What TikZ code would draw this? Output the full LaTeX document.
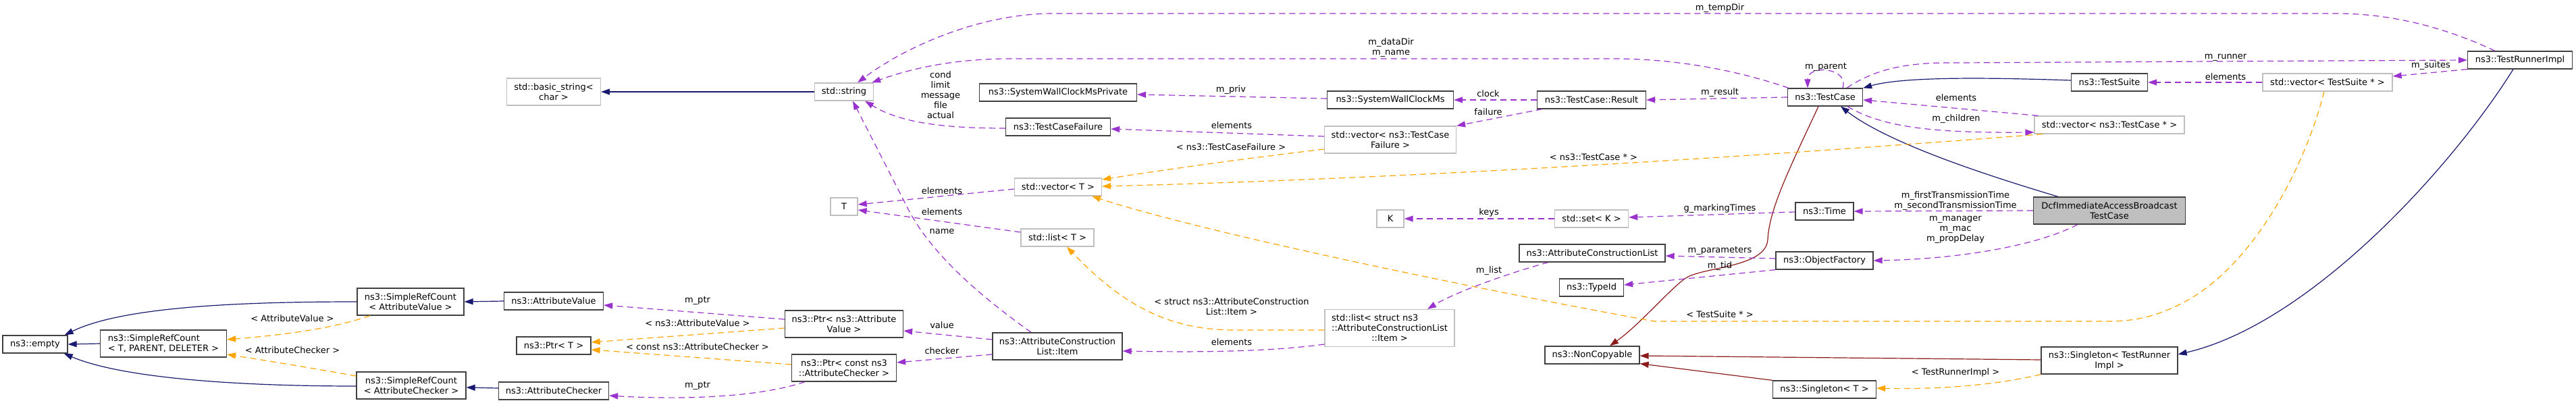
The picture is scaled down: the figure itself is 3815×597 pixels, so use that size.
\documentclass[tikz,border=0pt]{standalone}
\usepackage{fontspec}
\setmainfont{DejaVu Sans}
\usetikzlibrary{arrows.meta,calc}
\definecolor{inhc}{HTML}{191970}
\definecolor{usec}{HTML}{9A32CD}
\definecolor{tplc}{HTML}{FFA500}
\definecolor{privc}{HTML}{8B1A1A}
\definecolor{grayb}{HTML}{BFBFBF}
\definecolor{darkb}{HTML}{404040}
\begin{document}
\begin{tikzpicture}[x=1pt,y=-1pt,
 every node/.style={font=\fontsize{13}{15}\selectfont, inner sep=0pt},
 doc/.style={draw=darkb, line width=1.3pt, fill=white, minimum height=26pt, align=center},
 undoc/.style={draw=grayb, line width=1.3pt, fill=white, minimum height=26pt, align=center},
 lbl/.style={align=center},
 arrtip/.style={-{Triangle[length=13pt,width=9pt]}},
 eInh/.style={arrtip, draw=inhc, line width=1.2pt},
 ePriv/.style={arrtip, draw=privc, line width=1.2pt},
 eUse/.style={arrtip, draw=usec, line width=1.2pt, dash pattern=on 9pt off 6pt},
 eTpl/.style={arrtip, draw=tplc, line width=1.2pt, dash pattern=on 9pt off 6pt}]
\fill[white] (0,0) rectangle (3815,597);
\useasboundingbox (0,0) rectangle (3815,597);

% nodes
\node[doc, minimum width=96pt] (empty) at (52,510) {ns3::empty};
\node[doc, minimum width=187pt, minimum height=40pt, align=left] (srcTPD) at (242,509) {ns3::SimpleRefCount\\< T, PARENT, DELETER >};
\node[doc, minimum width=158pt, minimum height=40pt] (srcAV) at (608,447) {ns3::SimpleRefCount\\< AttributeValue >};
\node[doc, minimum width=162pt, minimum height=40pt] (srcAC) at (609,571) {ns3::SimpleRefCount\\< AttributeChecker >};
\node[undoc, minimum width=139pt, minimum height=40pt] (basicstr) at (820,136) {std::basic\_string<\\char >};
\node[undoc, minimum width=87pt] (str) at (1250,136) {std::string};
\node[undoc, minimum width=40pt] (T) at (1250,306) {T};
\node[doc, minimum width=147pt] (attrval) at (820,446) {ns3::AttributeValue};
\node[doc, minimum width=110pt] (ptrT) at (820,512) {ns3::Ptr< T >};
\node[doc, minimum width=163pt] (attrchk) at (820,579) {ns3::AttributeChecker};
\node[doc, minimum width=175pt, minimum height=40pt] (ptrAV) at (1250,480) {ns3::Ptr< ns3::Attribute\\Value >};
\node[doc, minimum width=155pt, minimum height=40pt] (ptrAC) at (1250,545) {ns3::Ptr< const ns3\\::AttributeChecker >};
\node[doc, minimum width=233pt] (swcmp) at (1567,137) {ns3::SystemWallClockMsPrivate};
\node[doc, minimum width=155pt] (tcf) at (1567,188) {ns3::TestCaseFailure};
\node[undoc, minimum width=129pt] (vecT) at (1567,277) {std::vector< T >};
\node[undoc, minimum width=108pt] (listT) at (1566,352) {std::list< T >};
\node[doc, minimum width=192pt, minimum height=40pt] (item) at (1566,513) {ns3::AttributeConstruction\\List::Item};
\node[doc, minimum width=187pt] (swcm) at (2059,148) {ns3::SystemWallClockMs};
\node[undoc, minimum width=195pt, minimum height=40pt] (vecTCF) at (2059,207) {std::vector< ns3::TestCase\\Failure >};
\node[doc, minimum width=161pt] (result) at (2357,148) {ns3::TestCase::Result};
\node[undoc, minimum width=40pt] (K) at (2059,324) {K};
\node[undoc, minimum width=109pt] (setK) at (2357,324) {std::set< K >};
\node[doc, minimum width=216pt] (acl) at (2358,375) {ns3::AttributeConstructionList};
\node[doc, minimum width=95pt] (typeid) at (2357,426) {ns3::TypeId};
\node[undoc, minimum width=192pt, minimum height=55pt] (listItem) at (2058,486) {\rlap{std::list< struct ns3}\phantom{::AttributeConstructionList}\\::AttributeConstructionList\\::Item >};
\node[doc, minimum width=140pt] (noncopy) at (2358,526) {ns3::NonCopyable};
\node[doc, minimum width=111pt] (testcase) at (2703,144) {ns3::TestCase};
\node[doc, minimum width=113pt] (testsuite) at (3124,122) {ns3::TestSuite};
\node[undoc, minimum width=222pt] (vecTC) at (3124,185) {std::vector< ns3::TestCase * >};
\node[doc, minimum width=86pt] (time) at (2702,313) {ns3::Time};
\node[doc, fill=grayb, minimum width=225pt, minimum height=40pt] (dcf) at (3124,312) {DcfImmediateAccessBroadcast\\TestCase};
\node[doc, minimum width=144pt] (objfac) at (2702,386) {ns3::ObjectFactory};
\node[doc, minimum width=202pt, minimum height=40pt] (singTRI) at (3124,534) {ns3::Singleton< TestRunner\\Impl >};
\node[doc, minimum width=153pt] (singT) at (2702,577) {ns3::Singleton< T >};
\node[doc, minimum width=155pt] (tri) at (3732,89) {ns3::TestRunnerImpl};
\node[undoc, minimum width=192pt] (vecTS) at (3447,122) {std::vector< TestSuite * >};

% inheritance (blue)
\draw[eInh] (srcTPD.west) -- (empty.east);
\draw[eInh] (srcAV.west) .. controls (350,447) and (180,455) .. ($(empty.north east)+(-5,0)$);
\draw[eInh] ($(srcAC.west)+(0,1)$) .. controls (350,572) and (180,560) .. ($(empty.south east)+(-6,0)$);
\draw[eInh] (attrval.west) -- (srcAV.east);
\draw[eInh] ($(attrchk.west)+(0,-4)$) -- ($(srcAC.east)+(0,3)$);
\draw[eInh] (str.west) -- (basicstr.east);
\draw[eInh] ($(testsuite.west)+(0,-3)$) .. controls (2950,115) and (2820,113) .. (testcase.north east);
\draw[eInh] ($(dcf.north)+(-76,0)$) .. controls (2960,265) and (2800,215) .. ($(testcase.south)+(23,0)$);
\draw[eInh] ($(tri.south)+(-10,0)$) .. controls (3630,250) and (3420,480) .. ($(singTRI.east)+(0,-9)$);

% private inheritance (dark red)
\draw[ePriv] ($(testcase.south)+(-10,0)$) .. controls (2650,250) and (2620,310) .. (2618,355) .. controls (2615,395) and (2530,395) .. (2500,410) .. controls (2480,420) and (2430,480) .. ($(noncopy.north)+(26,0)$);
\draw[ePriv] ($(singTRI.west)+(0,-1)$) -- ($(noncopy.east)+(0,1)$);
\draw[ePriv] (singT.north west) -- ($(noncopy.south east)+(0,-1)$);

% template instances (orange)
\draw[eTpl] ($(srcAV.south)+(-60,0)$) .. controls (490,488) and (410,497) .. ($(srcTPD.east)+(0,-6)$);
\draw[eTpl] ($(srcAC.west)+(0,-14)$) .. controls (460,545) and (400,535) .. ($(srcTPD.east)+(0,16)$);
\draw[eTpl] ($(ptrAV.west)+(0,6)$) -- ($(ptrT.east)+(0,-5)$);
\draw[eTpl] ($(ptrAC.west)+(0,-5)$) -- ($(ptrT.east)+(0,6)$);
\draw[eTpl] ($(vecTCF.west)+(0,14)$) .. controls (1850,234) and (1720,252) .. ($(vecT.east)+(0,-11)$);
\draw[eTpl] ($(vecTC.south)+(-99,0)$) .. controls (2600,232) and (2100,264) .. ($(vecT.east)+(0,-1)$);
\draw[eTpl] ($(listItem.west)+(0,3)$) -- (1830,489) .. controls (1740,489) and (1670,460) .. ($(listT.south)+(14,0)$);
\draw[eTpl] ($(vecTS.south)+(-5,0)$) .. controls (3410,260) and (3330,400) .. (3230,450) .. controls (3190,470) and (3160,476) .. (3120,476) -- (2450,476) .. controls (2250,440) and (1800,350) .. ($(vecT.south)+(50,0)$);
\draw[eTpl] (singTRI.south west) .. controls (2950,572) and (2860,577) .. ($(singT.east)+(0,-2)$);

% usage (purple)
\draw[eUse] ($(tri.north)+(-37,0)$) .. controls (3620,40) and (3540,20) .. (3460,20) -- (1560,20) .. controls (1450,20) and (1340,70) .. ($(str.north)+(20,0)$);
\draw[eUse] ($(testcase.north west)+(2,0)$) .. controls (2560,100) and (2470,87) .. (2390,87) -- (1490,87) .. controls (1400,88) and (1340,105) .. ($(str.north east)+(-3,0)$);
\draw[eUse] ($(tcf.west)+(0,2)$) .. controls (1390,190) and (1330,180) .. ($(str.south)+(31,0)$);
\draw[eUse] ($(item.north)+(-39,0)$) .. controls (1440,430) and (1372,368) .. (1340,300) -- ($(str.south)+(13,0)$);
\draw[eUse] ($(vecT.west)+(0,3)$) -- ($(T.east)+(0,-3)$);
\draw[eUse] ($(listT.west)+(0,-8)$) -- ($(T.east)+(0,5)$);
\draw[eUse] ($(item.west)+(0,-10)$) -- ($(ptrAV.east)+(0,10)$);
\draw[eUse] ($(item.west)+(0,12)$) -- ($(ptrAC.east)+(0,-8)$);
\draw[eUse] ($(ptrAV.west)+(0,-7)$) -- ($(attrval.east)+(0,6)$);
\draw[eUse] ($(ptrAC.south)+(-58,0)$) .. controls (1120,590) and (1000,592) .. ($(attrchk.east)+(0,7)$);
\draw[eUse] ($(vecTCF.west)+(0,-5)$) -- ($(tcf.east)+(0,3)$);
\draw[eUse] ($(swcm.west)+(0,-2)$) -- ($(swcmp.east)+(0,3)$);
\draw[eUse] (result.west) -- (swcm.east);
\draw[eUse] ($(result.south west)+(8,0)$) -- (vecTCF.north east);
\draw[eUse] (testcase.west) -- (result.east);
\draw[eUse] ($(testcase.north)+(26,0)$) .. controls (2739,100) and (2677,95) .. ($(testcase.north)+(-26,0)$);
\draw[eUse] ($(testcase.north)+(32,0)$) .. controls (2780,100) and (2830,92) .. (2900,93) -- (tri.west);
\draw[eUse] ($(vecTC.north west)+(6,0)$) -- ($(testcase.east)+(0,4)$);
\draw[eUse] ($(testcase.south)+(33,0)$) .. controls (2790,190) and (2870,197) .. ($(vecTC.west)+(0,11)$);
\draw[eUse] (vecTS.west) -- (testsuite.east);
\draw[eUse] (tri.south west) -- ($(vecTS.east)+(0,-9)$);
\draw[eUse] (setK.west) -- (K.east);
\draw[eUse] ($(time.west)+(0,1)$) -- ($(setK.east)+(0,-2)$);
\draw[eUse] (dcf.west) -- (time.east);
\draw[eUse] ($(dcf.south)+(-47,0)$) .. controls (3010,367) and (2890,384) .. (objfac.east);
\draw[eUse] ($(objfac.west)+(0,-3)$) -- ($(acl.east)+(0,4)$);
\draw[eUse] (objfac.south west) -- ($(typeid.east)+(0,-4)$);
\draw[eUse] ($(acl.south)+(-65,0)$) .. controls (2250,400) and (2160,430) .. ($(listItem.north)+(56,0)$);
\draw[eUse] ($(listItem.west)+(0,24)$) .. controls (1880,521) and (1780,522) .. ($(item.east)+(0,7)$);

% labels
\node[lbl] (l1) at (433,472) {< AttributeValue >};
\node[lbl] (l2) at (433,519) {< AttributeChecker >};
\node[lbl] (l3) at (1033,445) {m\_ptr};
\node[lbl] (l4) at (1033,479) {< ns3::AttributeValue >};
\node[lbl] (l5) at (1033,514) {< const ns3::AttributeChecker >};
\node[lbl] (l6) at (1033,571) {m\_ptr};
\node[lbl] (l7) at (1393,141) {cond\\limit\\message\\file\\actual};
\node[lbl] (l8) at (1395,283) {elements};
\node[lbl] (l9) at (1395,314) {elements};
\node[lbl] (l10) at (1395,343) {name};
\node[lbl] (l11) at (1395,482) {value};
\node[lbl] (l12) at (1395,520) {checker};
\node[lbl] (l13) at (1823,133) {m\_priv};
\node[lbl] (l14) at (1824,186) {elements};
\node[lbl] (l15) at (1823,218) {< ns3::TestCaseFailure >};
\node[lbl] (l16) at (1824,454) {< struct ns3::AttributeConstruction\\List::Item >};
\node[lbl] (l17) at (1824,507) {elements};
\node[lbl] (l18) at (2547,12) {m\_tempDir};
\node[lbl] (l19) at (2060,71) {m\_dataDir\\m\_name};
\node[lbl] (l20) at (2204,139) {clock};
\node[lbl] (l21) at (2204,166) {failure};
\node[lbl] (l22) at (2547,137) {m\_result};
\node[lbl] (l23) at (2360,233) {< ns3::TestCase * >};
\node[lbl] (l24) at (2205,315) {keys};
\node[lbl] (l25) at (2547,309) {g\_markingTimes};
\node[lbl] (l26) at (2547,371) {m\_parameters};
\node[lbl] (l27) at (2547,394) {m\_tid};
\node[lbl] (l28) at (2205,401) {m\_list};
\node[lbl] (l29) at (2547,466) {< TestSuite * >};
\node[lbl] (l30) at (2704,99) {m\_parent};
\node[lbl] (l31) at (2897,145) {elements};
\node[lbl] (l32) at (2897,176) {m\_children};
\node[lbl] (l33) at (2896,298) {m\_firstTransmissionTime\\m\_secondTransmissionTime};
\node[lbl] (l34) at (2896,340) {m\_manager\\m\_mac\\m\_propDelay};
\node[lbl] (l35) at (2896,552) {< TestRunnerImpl >};
\node[lbl] (l36) at (3296,85) {m\_runner};
\node[lbl] (l37) at (3296,114) {elements};
\node[lbl] (l38) at (3600,97) {m\_suites};
\end{tikzpicture}
\end{document}
